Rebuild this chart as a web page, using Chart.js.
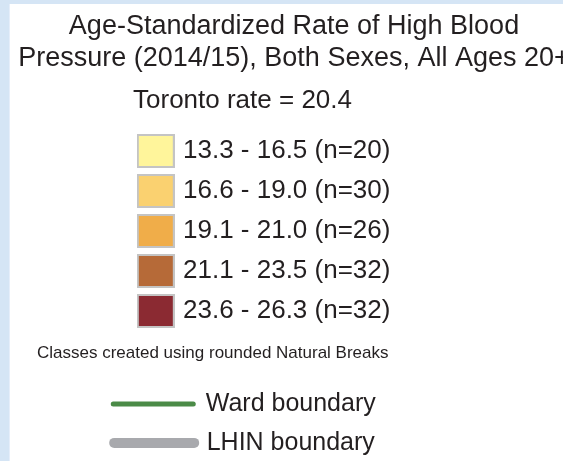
<!DOCTYPE html>
<html>
<head>
<meta charset="utf-8">
<script src="https://cdn.jsdelivr.net/npm/chart.js@4/dist/chart.umd.min.js"></script>
<style>
  html, body { margin: 0; padding: 0; }
  body { width: 563px; height: 461px; overflow: hidden; background: #d5e5f5; position: relative; }
  #panel { position: absolute; left: 10px; top: 4px; width: 600px; height: 520px; background: #fff; box-shadow: -1px 0 0 #e6eefa; }
  #topBox { position: absolute; left: 0; top: 0; width: 568px; height: 327px; }
  #bottomBox { position: absolute; left: 27px; top: 327px; width: 415px; height: 170px; }
</style>
</head>
<body>
<div id="panel">
  <div id="topBox"><canvas id="top"></canvas></div>
  <div id="bottomBox"><canvas id="bottom"></canvas></div>
</div>
<script>
const titleLines = ['Age-Standardized Rate of High Blood', 'Pressure (2014/15), Both Sexes, All Ages 20+'];
const torontoRate = 20.4;
const classRanges = ['13.3 - 16.5', '16.6 - 19.0', '19.1 - 21.0', '21.1 - 23.5', '23.6 - 26.3'];
const classCounts = [20, 30, 26, 32, 32];
const tickLabels = classRanges.map((r, i) => r + ' (n=' + classCounts[i] + ')');
const footnote = 'Classes created using rounded Natural Breaks';
const boundaryNames = ['Ward boundary', 'LHIN boundary'];

// palette
const classColors = ['#fff59b', '#fad170', '#f0ad49', '#b66a38', '#8b2a32'];
const boundaryColors = ['#4b8b47', '#a8a9ad'];
const boundaryWidths = [5, 10];
const TEXT = '#231f20';
const FONT = "'Liberation Sans', Arial, sans-serif";

Chart.defaults.font.family = FONT;
Chart.defaults.color = TEXT;

// map-legend patch: filled box with a light grey outline
function makeSwatch(color) {
  const c = document.createElement('canvas');
  c.width = 38;
  c.height = 34;
  const g = c.getContext('2d');
  g.fillStyle = '#c4c4c4';
  g.fillRect(0, 0, c.width, c.height);
  g.fillStyle = color;
  g.fillRect(2, 2, c.width - 4, c.height - 4);
  return c;
}

new Chart(document.getElementById('top'), {
  type: 'scatter',
  data: {
    datasets: [{
      data: tickLabels.map(l => ({ x: 0, y: l })),
      pointStyle: classColors.map(makeSwatch),
      pointRadius: 17,
      clip: false
    }]
  },
  options: {
    responsive: true,
    maintainAspectRatio: false,
    animation: false,
    events: [],
    layout: { autoPadding: false },
    plugins: {
      legend: { display: false },
      tooltip: { enabled: false },
      title: {
        display: true,
        text: titleLines,
        color: TEXT,
        font: { size: 27, weight: 'normal', lineHeight: 32 / 27 },
        padding: { top: 7, bottom: 4 }
      },
      subtitle: {
        display: true,
        text: 'Toronto rate = ' + torontoRate,
        fullSize: false,
        color: TEXT,
        font: { size: 26, weight: 'normal', lineHeight: 32 / 26 },
        padding: { top: 6, bottom: 14 }
      }
    },
    scales: {
      x: { type: 'linear', min: -1, max: 4, display: false },
      y: {
        type: 'category',
        labels: tickLabels,
        offset: true,
        position: 'left',
        grid: { display: false, drawTicks: false },
        border: { display: false },
        ticks: { mirror: true, padding: 85, autoSkip: false, color: TEXT, font: { size: 26 } },
        afterFit: s => { s.width = 88; s.paddingTop = 0; s.paddingBottom = 0; }
      },
      yr: {
        type: 'category',
        labels: tickLabels,
        position: 'right',
        grid: { display: false, drawTicks: false },
        border: { display: false },
        ticks: { display: false },
        afterFit: s => { s.width = 191; s.paddingTop = 0; s.paddingBottom = 0; }
      }
    }
  }
});

// footnote + boundary legend
new Chart(document.getElementById('bottom'), {
  type: 'line',
  data: {
    datasets: boundaryNames.map((name, i) => ({
      label: name,
      data: [],
      borderColor: boundaryColors[i],
      borderWidth: boundaryWidths[i]
    }))
  },
  options: {
    responsive: true,
    maintainAspectRatio: false,
    animation: false,
    events: [],
    scales: { x: { display: false }, y: { display: false } },
    plugins: {
      tooltip: { enabled: false },
      title: {
        display: true,
        text: footnote,
        align: 'start',
        color: TEXT,
        font: { size: 17, weight: 'normal' },
        padding: { top: 12, bottom: 14 }
      },
      legend: {
        position: 'top',
        labels: {
          usePointStyle: true,
          pointStyleWidth: 80,
          padding: 14,
          color: TEXT,
          font: { size: 25 },
          generateLabels: chart => chart.data.datasets.map((ds, i) => ({
            text: ds.label,
            datasetIndex: i,
            hidden: false,
            pointStyle: 'line',
            strokeStyle: ds.borderColor,
            fillStyle: ds.borderColor,
            lineWidth: ds.borderWidth,
            lineCap: 'round',
            fontColor: TEXT
          }))
        }
      }
    }
  }
});
</script>
</body>
</html>
